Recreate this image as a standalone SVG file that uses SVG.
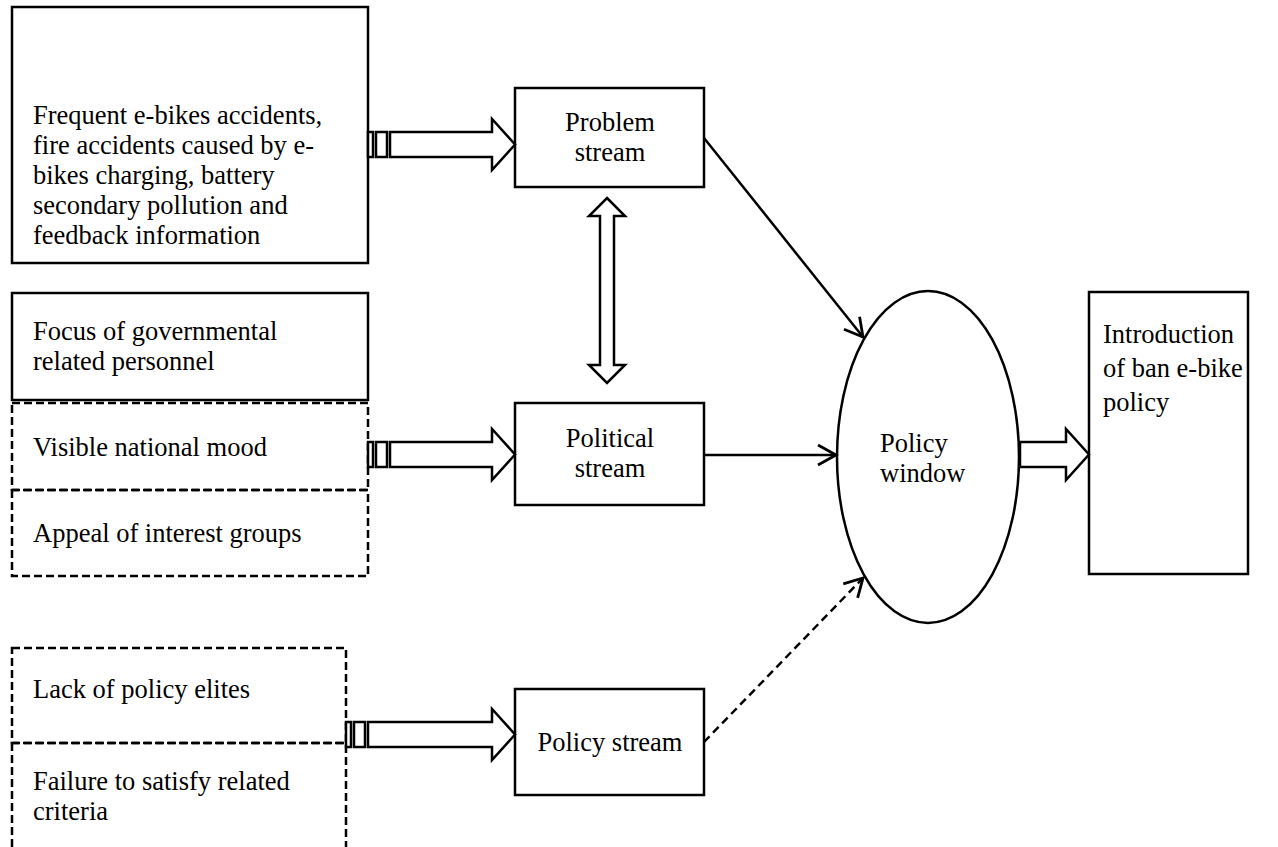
<svg xmlns="http://www.w3.org/2000/svg" width="1278" height="847" viewBox="0 0 1278 847">
<style>
text{font-family:"Liberation Serif","Times New Roman",serif;font-size:26.5px;fill:#000}
.box{fill:none;stroke:#000;stroke-width:2.5}
.dash{fill:none;stroke:#000;stroke-width:2.5;stroke-dasharray:8 4}
.blk{fill:#fff;stroke:#000;stroke-width:2.5;stroke-linejoin:miter}
.con{fill:none;stroke:#000;stroke-width:2.5}
.mid{text-anchor:middle}
</style>
<defs>
<marker id="v" markerUnits="userSpaceOnUse" markerWidth="26" markerHeight="26" viewBox="-22 -13 26 26" refX="0" refY="0" orient="auto">
<path d="M-18,-10 L0,0 L-18,10" fill="none" stroke="#000" stroke-width="2.8"/>
</marker>
</defs>
<rect width="1278" height="847" fill="#fff"/>
<g id="n-causes">
<rect class="box" x="12" y="7" width="356" height="256"/>
<text><tspan x="33" y="124">Frequent e-bikes accidents,</tspan><tspan x="33" y="154">fire accidents caused by e-</tspan><tspan x="33" y="184">bikes charging, battery</tspan><tspan x="33" y="214">secondary pollution and</tspan><tspan x="33" y="244">feedback information</tspan></text>
</g>
<g id="n-political-factors">
<rect class="box" x="12" y="293" width="356" height="107"/>
<text><tspan x="33" y="340">Focus of governmental</tspan><tspan x="33" y="370">related personnel</tspan></text>
<rect class="dash" x="12" y="403" width="356" height="87"/>
<text x="33" y="456">Visible national mood</text>
<rect class="dash" x="12" y="490" width="356" height="86"/>
<text x="33" y="542">Appeal of interest groups</text>
</g>
<g id="n-policy-factors">
<rect class="dash" x="12" y="648" width="334" height="95"/>
<text x="33" y="698">Lack of policy elites</text>
<rect class="dash" x="12" y="743" width="334" height="120"/>
<text><tspan x="33" y="790">Failure to satisfy related</tspan><tspan x="33" y="820">criteria</tspan></text>
</g>
<g id="n-problem">
<rect class="box" x="515" y="88" width="189" height="99"/>
<text class="mid"><tspan x="610" y="131">Problem</tspan><tspan x="610" y="161">stream</tspan></text>
</g>
<g id="n-political">
<rect class="box" x="515" y="403" width="189" height="102"/>
<text class="mid"><tspan x="610" y="447">Political</tspan><tspan x="610" y="477">stream</tspan></text>
</g>
<g id="n-policy">
<rect class="box" x="515" y="689" width="189" height="106"/>
<text class="mid" x="610" y="751">Policy stream</text>
</g>
<g id="n-window">
<ellipse class="box" cx="928" cy="457" rx="91" ry="166"/>
<text><tspan x="880" y="452">Policy</tspan><tspan x="880" y="482">window</tspan></text>
</g>
<g id="n-intro">
<rect class="box" x="1089" y="292" width="159" height="282"/>
<text><tspan x="1103" y="343">Introduction</tspan><tspan x="1103" y="377">of ban e-bike</tspan><tspan x="1103" y="411">policy</tspan></text>
</g>
<g id="connectors">
<rect class="blk" x="368" y="132" width="5" height="25"/>
<rect class="blk" x="376" y="132" width="11" height="25"/>
<path class="blk" d="M390,132 H492 V119 L515,144.5 L492,170 V157 H390 Z"/>
<rect class="blk" x="368" y="442" width="5" height="25"/>
<rect class="blk" x="376" y="442" width="11" height="25"/>
<path class="blk" d="M390,442 H492 V429 L515,454.5 L492,480 V467 H390 Z"/>
<rect class="blk" x="346" y="722" width="5" height="25"/>
<rect class="blk" x="354" y="722" width="11" height="25"/>
<path class="blk" d="M368,722 H492 V709 L515,734.5 L492,760 V747 H368 Z"/>
<path class="blk" d="M607,198 L625,216 H614 V365 H625 L607,383 L589,365 H600 V216 H589 Z"/>
<path class="blk" d="M1020,442 H1066 V429 L1089,454.5 L1066,480 V467 H1020 Z"/>
<line class="con" x1="704" y1="138" x2="863" y2="337" marker-end="url(#v)"/>
<line class="con" x1="704" y1="455" x2="836" y2="455" marker-end="url(#v)"/>
<line class="con" x1="704" y1="742" x2="863" y2="578" stroke-dasharray="8 5" marker-end="url(#v)"/>
</g>
</svg>
